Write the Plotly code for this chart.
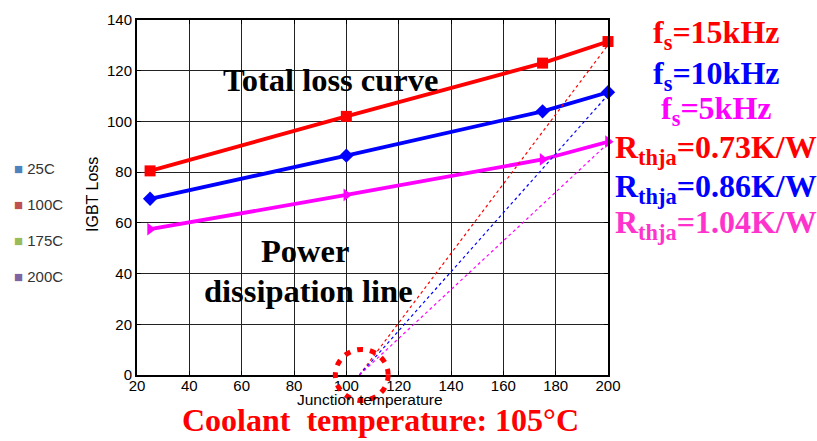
import plotly.graph_objects as go

temps = [25, 100, 175, 200]
loss_15k = [80.5, 102, 123, 131.5]
loss_10k = [69.5, 86.5, 104, 111.5]
loss_5k = [57.5, 71, 85, 92]
coolant_t = 105
rthja = [0.73, 0.86, 1.04]
line_end_t = 200

legend_labels = ["25C", "100C", "175C", "200C"]
legend_colors = ["#4F81BD", "#C0504D", "#9BBB59", "#8064A2"]

RED, BLUE, MAG, PINK = "#FF0000", "#0000FF", "#FF00FF", "#FF33CC"

fig = go.Figure()
series = [(loss_15k, RED, "square"), (loss_10k, BLUE, "diamond"), (loss_5k, MAG, "triangle-right")]
for vals, col, sym in series:
    fig.add_trace(go.Scatter(x=temps, y=vals, mode="lines+markers",
                             line=dict(color=col, width=3.8),
                             marker=dict(symbol=sym, size=11, color=col),
                             showlegend=False, cliponaxis=False))
for r, col in zip(rthja, [RED, BLUE, MAG]):
    fig.add_trace(go.Scatter(x=[coolant_t, line_end_t],
                             y=[0, (line_end_t - coolant_t) / r],
                             mode="lines", line=dict(color=col, width=1.2, dash="dot"),
                             showlegend=False))

serif = "Liberation Serif"
sans = "Liberation Sans"
ann = []
def px(x):  # data x -> paper
    return (x - 20) / 180
def py(y):
    return y / 140

def A(text, x, y, size, color, family=serif, xanchor="center", **kw):
    d = dict(text=text, x=px(x), y=py(y), xref="paper", yref="paper", showarrow=False,
             xanchor=xanchor, yanchor="middle",
             font=dict(family=family, size=size, color=color))
    d.update(kw)
    ann.append(d)

A("<b>Total loss curve</b>", 93.8, 116.5, 32.5, "black")
A("<b>Power</b>", 84.2, 48.8, 32.5, "black")
A("<b>dissipation line</b>", 85.5, 33.0, 32.5, "black")
A("<b>Coolant  temperature: 105°C</b>", 112.9, -17.7, 32, RED)

right = [("f<sub>s</sub>=15kHz", 134.1, RED), ("f<sub>s</sub>=10kHz", 118.3, BLUE),
         ("f<sub>s</sub>=5kHz", 104.5, MAG), ("R<sub>thja</sub>=0.73K/W", 88.8, RED),
         ("R<sub>thja</sub>=0.86K/W", 73.7, BLUE), ("R<sub>thja</sub>=1.04K/W", 59.5, PINK)]
for t, y, c in right:
    A("<b>" + t + "</b>", 241.3, y, 32, c)

ys = [81.3, 67.4, 53.0, 39.0]
for lab, col, y in zip(legend_labels, legend_colors, ys):
    A(f"<span style='color:{col}'>■</span> {lab}", -27.8, y, 15, "#333333",
      family=sans, xanchor="left")

A("IGBT Loss", 3.2, 71.0, 16, "black", family=sans, textangle=-90)
A("Junction temperature", 109, -9.8, 15.5, "black", family=sans)

axis_common = dict(dtick=20, showgrid=True, gridcolor="#222222", gridwidth=1,
                   showline=True, linecolor="black", linewidth=2, mirror="ticks",
                   ticks="inside", ticklen=4, tickcolor="black", zeroline=False,
                   tickfont=dict(family=sans, size=15, color="black"))

fig.update_layout(
    width=817, height=441, margin=dict(l=137, r=209, t=11, b=66),
    paper_bgcolor="white", plot_bgcolor="white",
    annotations=ann,
    shapes=[dict(type="circle", xref="x", yref="paper", x0=95.8, x1=116.0,
                 y0=-0.072, y1=0.072, line=dict(color=RED, width=5, dash="6px,7px"))],
    xaxis=dict(range=[20, 200], ticklabelstandoff=-4, **axis_common),
    yaxis=dict(range=[0, 140], **axis_common),
)
fig.write_html("out.html")
